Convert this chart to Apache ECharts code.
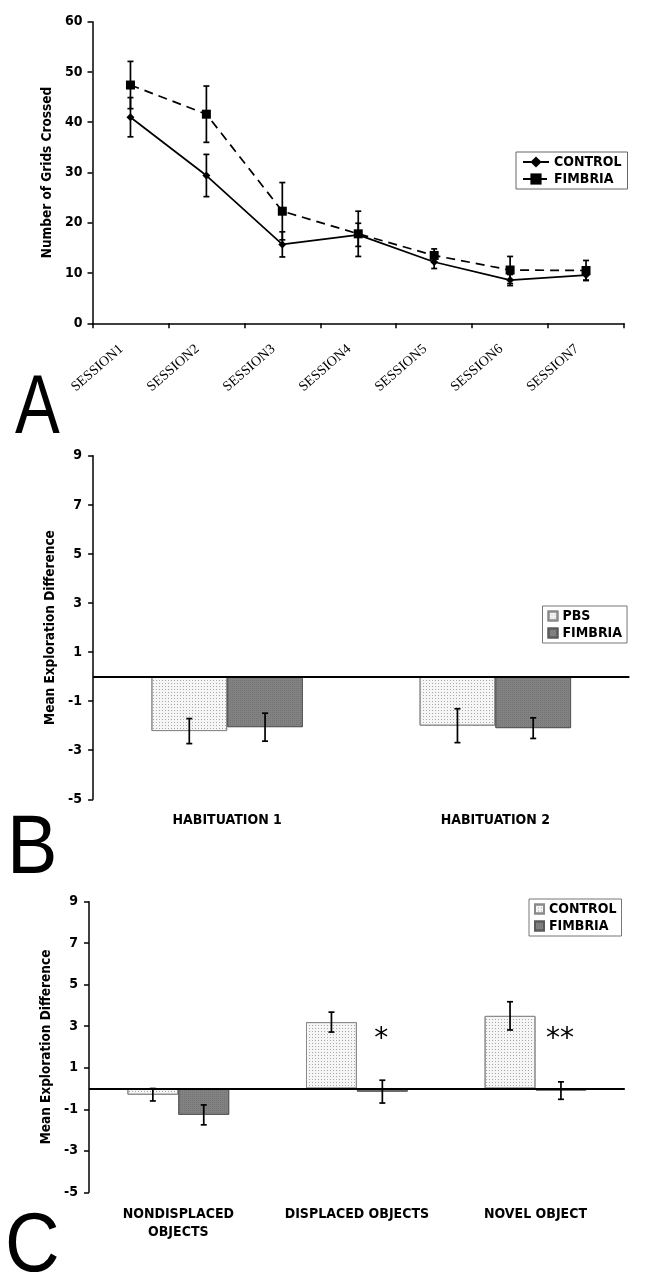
<!DOCTYPE html>
<html><head><meta charset="utf-8">
<script src="https://cdn.jsdelivr.net/npm/echarts@6/dist/echarts.min.js"></script>
<style>
html,body{margin:0;padding:0;background:#fff;}
.p{position:absolute;left:0;width:646px;}
#a{top:0;height:440px}
#b{top:440px;height:450px}
#c{top:860px;height:424px}
</style></head><body>
<div id="a" class="p"></div><div id="b" class="p"></div><div id="c" class="p"></div>
<script>
// ---------- DATA ----------
const sessions = ['SESSION1','SESSION2','SESSION3','SESSION4','SESSION5','SESSION6','SESSION7'];
const controlA = [41.0, 29.4, 15.7, 17.6, 12.2, 8.6, 9.6];
const controlAErr = [3.9, 4.2, 2.5, 2.3, 1.3, 1.1, 1.0];
const fimbriaA = [47.4, 41.6, 22.3, 17.8, 13.5, 10.6, 10.5];
const fimbriaAErr = [4.7, 5.6, 5.7, 4.5, 1.3, 2.7, 2.0];

const habituationCats = ['HABITUATION 1','HABITUATION 2'];
const pbsB = [-2.22, -2.0];
const pbsBErr = [0.51, 0.69];
const fimbriaB = [-2.06, -2.1];
const fimbriaBErr = [0.57, 0.42];

const objectCats = ['NONDISPLACED\nOBJECTS','DISPLACED OBJECTS','NOVEL OBJECT'];
const controlC = [-0.3, 3.2, 3.5];
const controlCErr = [0.3, 0.48, 0.68];
const fimbriaC = [-1.27, -0.15, -0.1];
const fimbriaCErr = [0.48, 0.55, 0.42];
const sigC = ['', '*', '**'];
const sigLevel = 2.35;

// ---------- STYLE HELPERS ----------
const COND = '"DejaVu Sans Condensed", "DejaVu Sans", sans-serif';
const tickFont = {fontFamily: COND, fontWeight: 'bold', fontSize: 14, color: '#000'};
const titleFont = {fontFamily: COND, fontWeight: 'bold', fontSize: 13.5, color: '#000'};

function errRender(sign, gap) {
  return function (params, api) {
    const i = api.value(0), v = api.value(1), e = api.value(2);
    const band = api.size([1, 0])[0];
    const bw = band * (1 - gap) / 2;
    const x = api.coord([i, v])[0] + sign * bw / 2;
    const yT = api.coord([i, v + e])[1];
    const yB = api.coord([i, v - e])[1];
    const c = 3, st = {stroke: '#000', lineWidth: 1.7};
    return {type: 'group', children: [
      {type: 'line', shape: {x1: x, y1: yT, x2: x, y2: yB}, style: st},
      {type: 'line', shape: {x1: x - c, y1: yT, x2: x + c, y2: yT}, style: st},
      {type: 'line', shape: {x1: x - c, y1: yB, x2: x + c, y2: yB}, style: st}
    ]};
  };
}
function errData(vals, errs) { return vals.map((v, i) => [i, v, errs[i]]); }

function bigLetter(t, x, y, sx) {
  return {type: 'text', x: x, y: y, scaleX: sx,
    style: {text: t, font: '84px "Liberation Sans"', fill: '#000', verticalAlign: 'middle'}};
}

const lightStyle = {
  color: '#f6f6f6', borderColor: '#8a8a8a', borderWidth: 1,
  decal: {symbol: 'rect', symbolSize: 1, dashArrayX: [1, 2], dashArrayY: [1, 2], color: '#a8a8a8'}
};
const darkStyle = {
  color: '#828282', borderColor: '#5a5a5a', borderWidth: 1,
  decal: {symbol: 'rect', symbolSize: 1, dashArrayX: [1, 1], dashArrayY: [1, 1], color: '#747474'}
};
const legendText = {fontFamily: COND, fontWeight: 'bold', fontSize: 14, color: '#000'};

function valueAxis(name, min, max, interval, gap, margin) {
  return {
    type: 'value', min: min, max: max, interval: interval,
    name: name, nameLocation: 'middle', nameGap: gap, nameTextStyle: titleFont,
    axisLine: {show: true, lineStyle: {color: '#000', width: 1.5}},
    axisTick: {show: true, length: 5, lineStyle: {color: '#000', width: 1.5}},
    axisLabel: Object.assign({margin: margin}, tickFont),
    splitLine: {show: false}
  };
}
const zeroLine = {silent: true, symbol: 'none', label: {show: false},
  lineStyle: {color: '#000', width: 1.8, type: 'solid'}, data: [{yAxis: 0}]};

// ---------- PANEL A ----------
const chA = echarts.init(document.getElementById('a'));
chA.setOption({
  animation: false,
  grid: {left: 92.5, right: 22, top: 21.7, height: 301.6},
  legend: {
    orient: 'vertical', left: 516, top: 152, padding: [3, 6], itemGap: 3,
    itemWidth: 26, itemHeight: 14, borderColor: '#666', borderWidth: 1,
    textStyle: legendText, data: ['CONTROL', 'FIMBRIA']
  },
  xAxis: {
    type: 'category', data: sessions, boundaryGap: true,
    axisLine: {lineStyle: {color: '#000', width: 1.5}},
    axisTick: {show: true, length: 5, lineStyle: {color: '#000', width: 1.5}},
    axisLabel: {interval: 0, rotate: 41, margin: 16, padding: [0, 12, 0, 0],
      fontFamily: '"Liberation Serif", serif', fontSize: 14, color: '#000'}
  },
  yAxis: valueAxis('Number of Grids Crossed', 0, 60, 10, 37, 10),
  series: [
    {name: 'CONTROL', type: 'line', data: controlA, symbol: 'diamond', symbolSize: 8,
     itemStyle: {color: '#000'}, lineStyle: {color: '#000', width: 1.7}, z: 3},
    {name: 'FIMBRIA', type: 'line', data: fimbriaA, symbol: 'rect', symbolSize: 9,
     itemStyle: {color: '#000'}, lineStyle: {color: '#000', width: 1.7, type: [9, 6]}, z: 3},
    {type: 'custom', renderItem: errRender(0, 0), data: errData(controlA, controlAErr), z: 4},
    {type: 'custom', renderItem: errRender(0, 0), data: errData(fimbriaA, fimbriaAErr), z: 4}
  ],
  graphic: [bigLetter('A', 15, 410, 0.8)]
});

// ---------- PANEL B ----------
const gapB = 0.435;
const chB = echarts.init(document.getElementById('b'));
chB.setOption({
  animation: false,
  grid: {left: 93.1, right: 16.6, top: 15.8, height: 343.5},
  legend: {
    orient: 'vertical', left: 542.5, top: 166, padding: [3, 5], itemGap: 3,
    itemWidth: 9, itemHeight: 9, icon: 'rect', borderColor: '#777', borderWidth: 1,
    textStyle: legendText, data: ['PBS', 'FIMBRIA']
  },
  xAxis: {
    type: 'category', data: habituationCats,
    axisLine: {show: false, onZero: false}, axisTick: {show: false},
    axisLabel: {margin: 14, fontFamily: COND, fontWeight: 'bold', fontSize: 14, color: '#000'}
  },
  yAxis: valueAxis('Mean Exploration Difference', -5, 9, 2, 32, 11),
  series: [
    {name: 'PBS', type: 'bar', data: pbsB, barGap: '0%', barCategoryGap: (gapB * 100) + '%',
     itemStyle: lightStyle, markLine: zeroLine},
    {name: 'FIMBRIA', type: 'bar', data: fimbriaB, barGap: '0%', barCategoryGap: (gapB * 100) + '%', itemStyle: darkStyle},
    {type: 'custom', renderItem: errRender(-1, gapB), data: errData(pbsB, pbsBErr), z: 5},
    {type: 'custom', renderItem: errRender(1, gapB), data: errData(fimbriaB, fimbriaBErr), z: 5}
  ],
  graphic: [bigLetter('B', 7, 410, 0.9)]
});

// ---------- PANEL C ----------
const gapC = 0.43;
const chC = echarts.init(document.getElementById('c'));
chC.setOption({
  animation: false,
  grid: {left: 89, right: 21.2, top: 41.7, height: 290.6},
  legend: {
    orient: 'vertical', left: 529, top: 39, padding: [3, 5], itemGap: 3,
    itemWidth: 9, itemHeight: 9, icon: 'rect', borderColor: '#777', borderWidth: 1,
    textStyle: legendText, data: ['CONTROL', 'FIMBRIA']
  },
  xAxis: {
    type: 'category', data: objectCats,
    axisLine: {show: false, onZero: false}, axisTick: {show: false},
    axisLabel: {interval: 0, margin: 13, lineHeight: 18, fontFamily: COND, fontWeight: 'bold', fontSize: 14, color: '#000'}
  },
  yAxis: valueAxis('Mean Exploration Difference', -5, 9, 2, 32.5, 11),
  series: [
    {name: 'CONTROL', type: 'bar', data: controlC, barGap: '0%', barCategoryGap: (gapC * 100) + '%',
     itemStyle: lightStyle, markLine: zeroLine},
    {name: 'FIMBRIA', type: 'bar', data: fimbriaC, barGap: '0%', barCategoryGap: (gapC * 100) + '%', itemStyle: darkStyle},
    {type: 'custom', renderItem: errRender(-1, gapC), data: errData(controlC, controlCErr), z: 5},
    {type: 'custom', renderItem: errRender(1, gapC), data: errData(fimbriaC, fimbriaCErr), z: 5},
    {type: 'custom', z: 6, data: sigC.map((s, i) => [i, sigLevel]),
     renderItem: function (params, api) {
       const i = api.value(0);
       const band = api.size([1, 0])[0];
       const bw = band * (1 - gapC) / 2;
       const p = api.coord([i, sigLevel]);
       return {type: 'text', x: p[0] + bw / 2 - 1, y: p[1],
         style: {text: sigC[i], font: '28px "DejaVu Sans"', fill: '#000', align: 'center', verticalAlign: 'middle'}};
     }}
  ],
  graphic: [bigLetter('C', 5, 388, 0.9)]
});
</script>
</body></html>
